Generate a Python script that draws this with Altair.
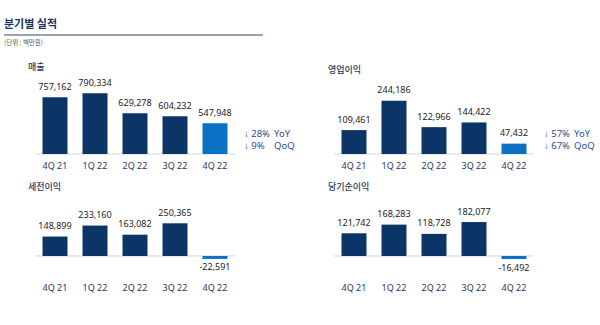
import altair as alt
import pandas as pd

# ---- data ----
quarters = ["4Q 21", "1Q 22", "2Q 22", "3Q 22", "4Q 22"]
sales = [757162, 790334, 629278, 604232, 547948]
op_income = [109461, 244186, 122966, 144422, 47432]
pretax = [148899, 233160, 163082, 250365, -22591]
net_income = [121742, 168283, 118728, 182077, -16492]
highlight = ["base", "base", "base", "base", "hl"]

panel_titles = ["매출", "영업이익", "세전이익", "당기순이익"]
ann_pct = [["↓ 28%", "↓ 9%"], ["↓ 57%", "↓ 67%"]]
ann_lbl = ["YoY", "QoQ"]

title_text = "분기별 실적"
unit_text = "(단위 : 백만원)"

# ---- style ----
KR = "Noto Sans CJK KR"
NUM = "Noto Sans"
NAVY = "#0b3566"
BLUE = "#0a71c4"
TXT_NAVY = "#1f3864"
ANN = "#1f5096"
VAL = "#222222"


def one(**kw):
    return pd.DataFrame({k: [v] for k, v in kw.items()})


def panel(values, title, xrange, ydomain, yrange, base, cat_y, title_xy, ann=None):
    df = pd.DataFrame({
        "q": quarters,
        "v": values,
        "c": highlight,
        "lbl": [f"{v:,}" for v in values],
    })
    xs = alt.X("q:N", sort=None, axis=None,
               scale=alt.Scale(domain=quarters, range=xrange,
                               paddingInner=0.375, paddingOuter=0.1875))
    ys = alt.Y("v:Q", axis=None,
               scale=alt.Scale(domain=ydomain, range=yrange, zero=False, nice=False))
    base_chart = alt.Chart(df)
    bars = base_chart.mark_bar().encode(
        x=xs, y=ys, y2=alt.datum(base),
        color=alt.Color("c:N", scale=alt.Scale(domain=["base", "hl"], range=[NAVY, BLUE]),
                        legend=None),
    )
    pos_txt = base_chart.transform_filter("datum.v >= 0").mark_text(
        font=NUM, fontSize=9, color=VAL, baseline="alphabetic", dy=-7.5
    ).encode(x=xs, y=ys, text="lbl:N")
    neg_txt = base_chart.transform_filter("datum.v < 0").mark_text(
        font=NUM, fontSize=9, color=VAL, baseline="alphabetic", dy=11.5
    ).encode(x=xs, y=ys, text="lbl:N")
    cats = base_chart.mark_text(
        font=NUM, fontSize=9, color=TXT_NAVY, baseline="middle"
    ).encode(x=xs, y=alt.value(cat_y), text="q:N")
    rule = alt.Chart(one(b=base)).mark_rule(color="#d6d6d6", strokeWidth=1).encode(
        y=alt.Y("b:Q", axis=None,
                scale=alt.Scale(domain=ydomain, range=yrange, zero=False, nice=False)),
        x=alt.value(xrange[0]), x2=alt.value(xrange[1]),
    )
    ttl = alt.Chart(one(t=title)).mark_text(
        font=KR, fontSize=9, color=TXT_NAVY, align="left", baseline="middle", fontWeight=500
    ).encode(x=alt.value(title_xy[0]), y=alt.value(title_xy[1]), text="t:N")
    layers = [rule, bars, pos_txt, neg_txt, cats, ttl]
    if ann is not None:
        ax, ay, pcts = ann
        for i, (p, l) in enumerate(zip(pcts, ann_lbl)):
            layers.append(alt.Chart(one(t=p)).mark_text(
                font=NUM, fontSize=9.5, color=ANN, align="left", baseline="middle"
            ).encode(x=alt.value(ax), y=alt.value(ay + 12 * i), text="t:N"))
            layers.append(alt.Chart(one(t=l)).mark_text(
                font=NUM, fontSize=9.5, color=ANN, align="left", baseline="middle"
            ).encode(x=alt.value(ax + 30), y=alt.value(ay + 12 * i), text="t:N"))
    return alt.layer(*layers)


p1 = panel(sales, panel_titles[0], [35, 235], [300000, 800000], [154, 92], 300000, 166,
           (28, 67), (244, 134, ann_pct[0]))
p2 = panel(op_income, panel_titles[1], [334, 534], [0, 250000], [154, 99.4], 0, 166,
           (328, 70), (544, 134, ann_pct[1]))
p3 = panel(pretax, panel_titles[2], [35, 235], [-50000, 250000], [262.5, 223.35], 0, 288,
           (28, 187))
p4 = panel(net_income, panel_titles[3], [334, 534], [-50000, 200000], [265.3, 218.7], 0, 288,
           (328, 187))

header_title = alt.Chart(one(t=title_text)).mark_text(
    font=KR, fontSize=11, fontWeight="bold", color="#17365d", align="left", baseline="middle"
).encode(x=alt.value(4), y=alt.value(25), text="t:N")
header_rule = alt.Chart(one(t=1)).mark_rule(color="#98a4b4", strokeWidth=2).encode(
    x=alt.value(4), x2=alt.value(263), y=alt.value(35)
)
header_unit = alt.Chart(one(t=unit_text)).mark_text(
    font=KR, fontSize=6.5, color="#555555", align="left", baseline="middle"
).encode(x=alt.value(4), y=alt.value(43), text="t:N")

chart = alt.layer(header_title, header_rule, header_unit, p1, p2, p3, p4).resolve_scale(
    x="independent", y="independent"
).properties(
    width=600, height=325, padding=0, autosize=alt.AutoSizeParams(type="none"),
    background="white"
).configure_view(stroke=None)

chart.save("out.html", embed_options={"renderer": "svg", "actions": False})
